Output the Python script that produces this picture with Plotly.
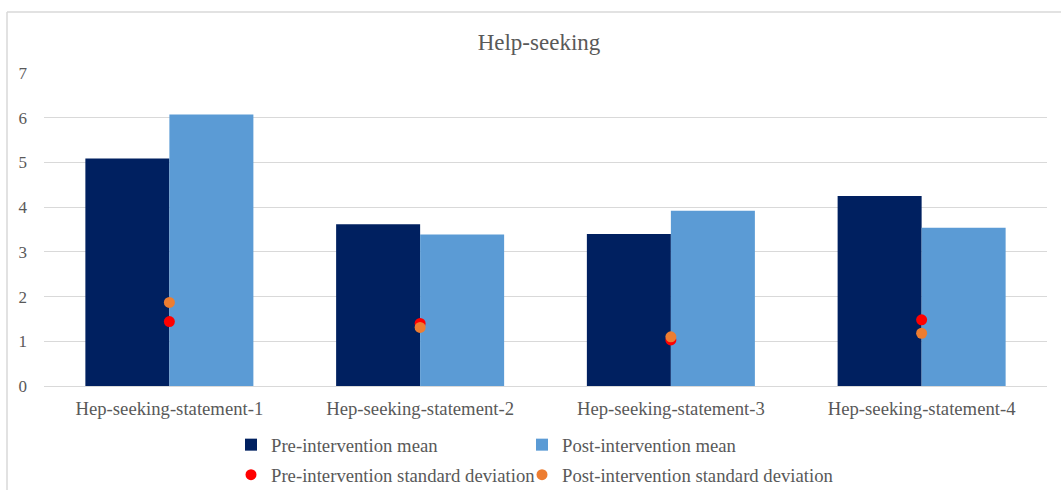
import plotly.graph_objects as go

categories = [
    "Hep-seeking-statement-1",
    "Hep-seeking-statement-2",
    "Hep-seeking-statement-3",
    "Hep-seeking-statement-4",
]
pre_mean = [5.09, 3.62, 3.40, 4.25]
post_mean = [6.07, 3.39, 3.92, 3.54]
pre_sd = [1.44, 1.40, 1.03, 1.48]
post_sd = [1.87, 1.31, 1.10, 1.18]
y_ticks = [0, 1, 2, 3, 4, 5, 6, 7]

FONT = "Liberation Serif"
TEXT = "#595959"
GRID = "#D9D9D9"
W, H = 1061, 490

fig = go.Figure()
fig.add_trace(go.Bar(x=categories, y=pre_mean, name="Pre-intervention mean",
                     marker=dict(color="#002060", line=dict(width=0)), legend="legend"))
fig.add_trace(go.Bar(x=categories, y=post_mean, name="Post-intervention mean",
                     marker=dict(color="#5B9BD5", line=dict(width=0)), legend="legend2"))
fig.add_trace(go.Scatter(x=categories, y=pre_sd, mode="markers",
                         name="Pre-intervention standard deviation",
                         marker=dict(color="#FF0000", size=11), legend="legend3"))
fig.add_trace(go.Scatter(x=categories, y=post_sd, mode="markers",
                         name="Post-intervention standard deviation",
                         marker=dict(color="#ED7D31", size=11), legend="legend4"))
fig.update_traces(showlegend=True)


def legend_at(px, py):
    # one single-entry legend per series, placed in a 2x2 grid below the axis
    return dict(
        orientation="h", xref="container", yref="container",
        x=px / W, y=1 - py / H, xanchor="left", yanchor="middle",
        font=dict(family=FONT, size=18.7, color=TEXT),
        itemwidth=30, bgcolor="rgba(0,0,0,0)", visible=True,
    )


fig.update_layout(
    width=W, height=H,
    showlegend=True,
    margin=dict(l=44, r=14, t=73, b=104, autoexpand=False),
    paper_bgcolor="white", plot_bgcolor="white",
    font=dict(family=FONT, color=TEXT, size=16),
    title=dict(text="Help-seeking", x=0.508, xref="container", xanchor="center",
               y=1 - 42 / H, yref="container", yanchor="middle",
               font=dict(family=FONT, size=23, color=TEXT)),
    barmode="group", bargap=0.33, bargroupgap=0,
    legend=legend_at(231, 445),
    legend2=legend_at(522, 445),
    legend3=legend_at(231, 475),
    legend4=legend_at(522, 475),
    xaxis=dict(showgrid=False, showline=False, ticks="", zeroline=False,
               ticklabelstandoff=9, automargin=False,
               tickfont=dict(family=FONT, size=18.7, color=TEXT)),
    yaxis=dict(range=[0, 7], tickvals=y_ticks, showgrid=True, gridcolor=GRID,
               gridwidth=1, zeroline=True, zerolinecolor=GRID, zerolinewidth=1,
               showline=False, ticklabelstandoff=16, automargin=False,
               tickfont=dict(family=FONT, size=17, color=TEXT)),
    shapes=[
        dict(type="line", xref="paper", yref="paper",
             x0=(7 - 44) / 1003, x1=(1070 - 44) / 1003,
             y0=(386 - 12) / 313, y1=(386 - 12) / 313,
             line=dict(color="#D9D9D9", width=1.5)),
        dict(type="line", xref="paper", yref="paper",
             x0=(7 - 44) / 1003, x1=(7 - 44) / 1003,
             y0=(386 - 12) / 313, y1=(386 - 500) / 313,
             line=dict(color="#D9D9D9", width=1.5)),
    ],
)

fig.write_html("out.html")
